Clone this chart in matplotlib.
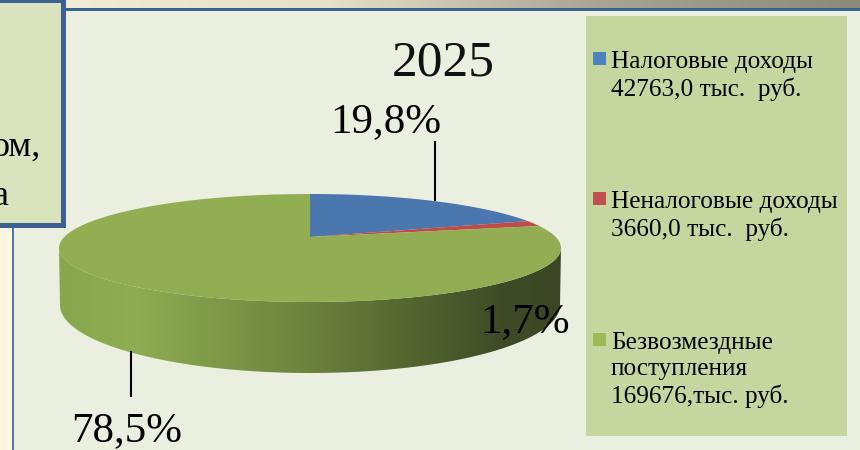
#!/usr/bin/env python3
"""2025 revenue structure: flat-looking 3D pie with a side legend, drawn in pixel coords."""
import numpy as np
import matplotlib
matplotlib.use("Agg")
import matplotlib.pyplot as plt
from matplotlib.colors import LinearSegmentedColormap
from matplotlib.patches import Polygon, Rectangle

YEAR = "2025"
SHARES = [19.8, 1.7, 78.5]
SHARE_LABELS = ["19,8%", "1,7%", "78,5%"]
CATEGORIES = ["Налоговые доходы\n42763,0 тыс.  руб.",
              "Неналоговые доходы\n3660,0 тыс.  руб.",
              "Безвозмездные\nпоступления\n169676,тыс. руб."]
COLORS = ["#4A77AD", "#BE4B48", "#93AD53"]
LEGEND_COLORS = ["#4F81BD", "#C0504D", "#9BBB59"]
BOX_LINES = ["ом,", "а"]

plt.rcParams["font.family"] = ["Liberation Serif", "DejaVu Serif"]

CX, CY, RX, RY = 310, 248, 251, 54      # top ellipse
AX_, AY_ = 310, 237                     # wedge apex sits above the ellipse centre
BOT_CY, BOT_RX, BOT_RY = 305, 250, 68   # lower rim of the wall


def rim_param(theta):
    """ellipse parameter where a ray from the apex at pie angle theta (cw from top) hits the rim"""
    dx, dy = np.sin(theta), -np.cos(theta)
    ox, oy = (AX_ - CX) / RX, (AY_ - CY) / RY
    a = dx * dx + dy * dy
    b = 2 * (ox * dx + oy * dy)
    c = ox * ox + oy * oy - 1
    s = (-b + np.sqrt(b * b - 4 * a * c)) / (2 * a)
    return np.arctan2(ox + s * dx, -(oy + s * dy))


def wedge_xy(t0, t1):
    ts = np.linspace(t0, t1, 200)
    xs = CX + RX * np.sin(ts)
    ys = CY - RY * np.cos(ts)
    return np.column_stack([np.r_[AX_, xs], np.r_[AY_, ys]])


fig = plt.figure(figsize=(8.6, 4.5), dpi=100)
ax = fig.add_axes([0, 0, 1, 1])
ax.axis("off")

# page furniture
ax.add_patch(Rectangle((0, 0), 860, 450, fc="#FDF6E3", ec="none"))
ax.add_patch(Rectangle((14, 10), 846, 440, fc="#EAEFDF", ec="none"))
strip = LinearSegmentedColormap.from_list("strip", ["#F3EBD6", "#E6E0CA", "#A9A592", "#8C8A78"])
ax.imshow(np.linspace(0, 1, 256)[None, :], cmap=strip, extent=(66, 860, 8, 0), aspect="auto", zorder=1)
ax.add_patch(Rectangle((66, 8), 794, 3, fc="#3C6291", ec="none", zorder=2))
ax.add_patch(Rectangle((12, 225), 2, 225, fc="#4F77A8", ec="none", zorder=2))

# text box cut by the left edge
ax.add_patch(Rectangle((-10, 0), 73, 224.5, fc="#D9E4BF", ec="#3C6291", lw=3.6, zorder=3))
ax.text(41, 156, BOX_LINES[0], fontsize=26, ha="right", va="baseline", zorder=4)
ax.text(9, 205, BOX_LINES[1], fontsize=26, ha="right", va="baseline", zorder=4)

# wall of the pie, gradient clipped to the front band
front = np.linspace(np.pi * 1.5, np.pi * 0.5, 300)
wall = np.r_[np.column_stack([CX + RX * np.sin(front), CY - RY * np.cos(front)]),
             np.column_stack([CX + BOT_RX * np.sin(front[::-1]), BOT_CY - BOT_RY * np.cos(front[::-1])])]
shade = LinearSegmentedColormap.from_list(
    "wall", [(0, "#88A64C"), (0.15, "#8FAD51"), (0.48, "#6E843F"), (0.70, "#546530"),
             (0.88, "#3F4B26"), (1, "#3D4725")])
img = ax.imshow(np.linspace(0, 1, 256)[None, :], cmap=shade, extent=(59, 562, 380, 240),
                aspect="auto", zorder=5)
clip = Polygon(wall, closed=True, transform=ax.transData, fc="none", ec="none")
ax.add_patch(clip)
img.set_clip_path(clip)

# top face, from the shares
angles = 2 * np.pi * np.cumsum([0] + SHARES) / sum(SHARES)
for i, col in enumerate(COLORS):
    t0 = rim_param(angles[i]) if i else 0.0
    t1 = rim_param(angles[i + 1]) if i < len(COLORS) - 1 else 2 * np.pi
    ax.add_patch(Polygon(wedge_xy(t0, t1), closed=True, fc=col, ec="none", zorder=6))

# leaders and labels
ax.plot([434.5, 434.5], [142, 200], color="black", lw=1.5, zorder=7)
ax.plot([131, 131], [352, 396], color="black", lw=1.5, zorder=7)
ax.text(443.5, 76, YEAR, fontsize=37, ha="center", va="baseline", color="#111111", zorder=8)
ax.text(386, 132, SHARE_LABELS[0], fontsize=31, ha="center", va="baseline", zorder=8)
ax.text(525, 332, SHARE_LABELS[1], fontsize=31, ha="center", va="baseline", zorder=8)
ax.text(127, 441, SHARE_LABELS[2], fontsize=31, ha="center", va="baseline", zorder=8)

# legend panel
ax.add_patch(Rectangle((586, 16), 261, 420, fc="#C5D69F", ec="none", zorder=2))
for name, col, sq_y in zip(CATEGORIES, LEGEND_COLORS, [52, 192, 333]):
    ax.add_patch(Rectangle((593, sq_y), 13, 13, fc=col, ec="none", zorder=3))
    ax.text(611, sq_y - 1, name, fontsize=18.2, ha="left", va="top", linespacing=1.25, zorder=3)

ax.set_xlim(0, 860)
ax.set_ylim(450, 0)
fig.savefig("out.png", dpi=100)
